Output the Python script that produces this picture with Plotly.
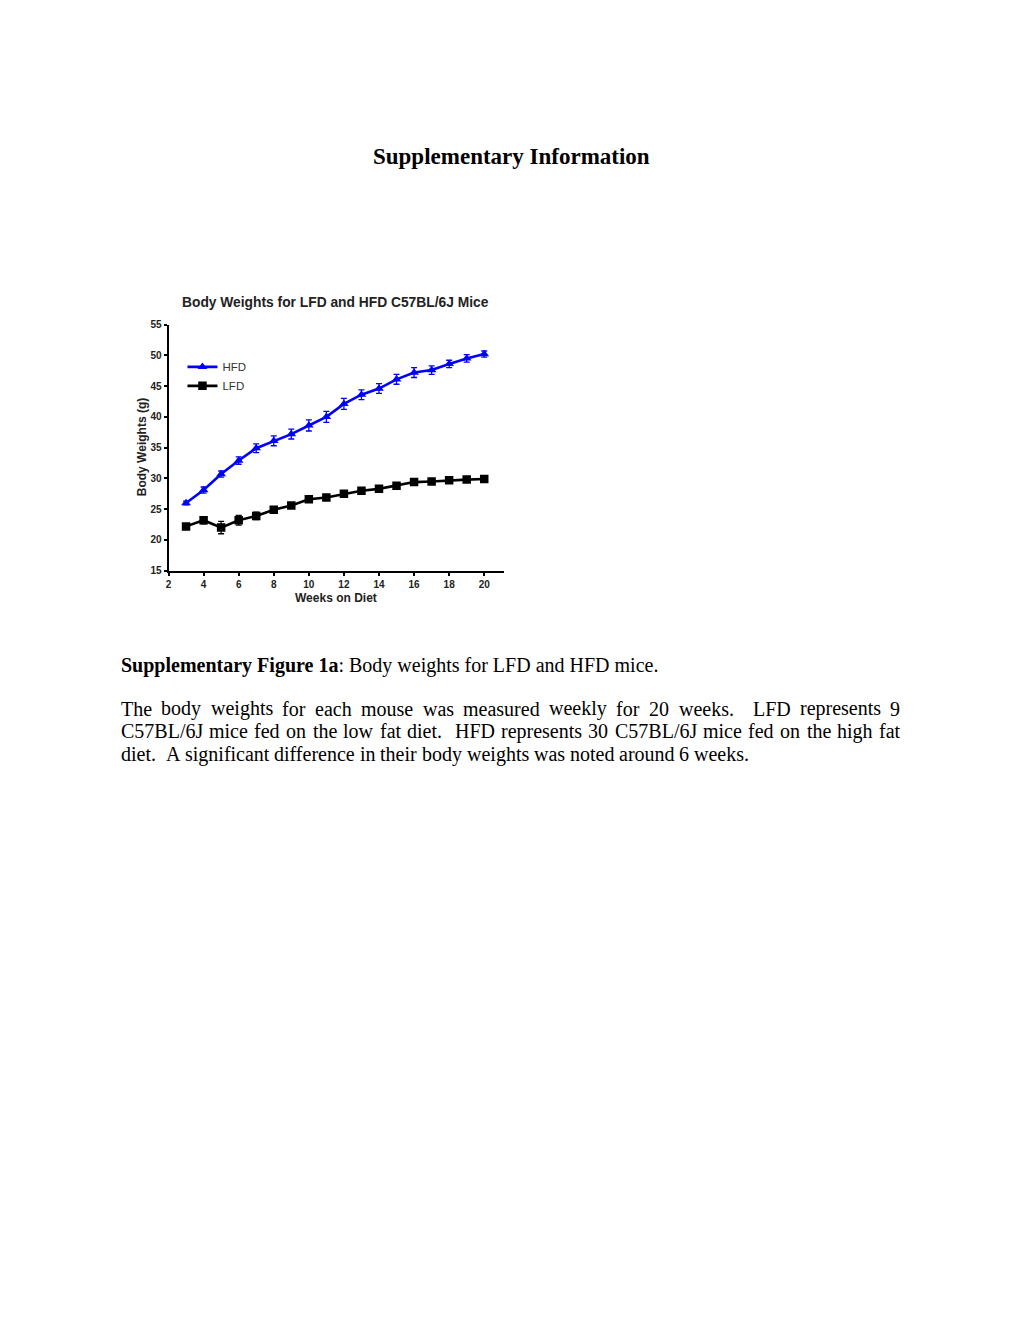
import plotly.graph_objects as go

W, H = 1020, 1320

weeks = [3, 4, 5, 6, 7, 8, 9, 10, 11, 12, 13, 14, 15, 16, 17, 18, 19, 20]
hfd = [26.0, 28.1, 30.7, 32.9, 34.9, 36.1, 37.2, 38.6, 40.0, 42.1, 43.6, 44.6, 46.1, 47.2, 47.6, 48.6, 49.5, 50.2]
hfd_err = [0.3, 0.5, 0.5, 0.6, 0.7, 0.8, 0.8, 0.9, 0.9, 0.9, 0.8, 0.8, 0.8, 0.8, 0.7, 0.6, 0.6, 0.5]
lfd = [22.2, 23.2, 22.0, 23.2, 23.9, 24.9, 25.6, 26.6, 26.9, 27.5, 28.0, 28.3, 28.8, 29.4, 29.5, 29.7, 29.8, 29.9]
lfd_err = [0.3, 0.6, 1.0, 0.8, 0.6, 0.5, 0.4, 0.4, 0.4, 0.3, 0.3, 0.3, 0.3, 0.3, 0.3, 0.3, 0.3, 0.3]

x_ticks = [2, 4, 6, 8, 10, 12, 14, 16, 18, 20]
y_ticks = [15, 20, 25, 30, 35, 40, 45, 50, 55]

page_title = "Supplementary Information"
chart_title = "Body Weights for LFD and HFD C57BL/6J Mice"
x_title = "Weeks on Diet"
y_title = "Body Weights (g)"
caption_bold = "Supplementary Figure 1a"
caption_rest = ": Body weights for LFD and HFD mice."
body_lines = [
    "The body weights for each mouse was measured weekly for 20 weeks.  LFD represents 9",
    "C57BL/6J mice fed on the low fat diet.  HFD represents 30 C57BL/6J mice fed on the high fat",
    "diet.  A significant difference in their body weights was noted around 6 weeks.",
]
justify = [True, True, False]

# Times-Roman advance widths (per 1000 em), used to justify the paragraph text
TW = {' ': 250, '.': 250, ',': 250, '/': 278, ':': 278, '(': 333, ')': 333, '-': 333,
      'A': 722, 'B': 667, 'C': 667, 'D': 722, 'E': 611, 'F': 556, 'G': 722, 'H': 722, 'I': 333,
      'J': 389, 'K': 722, 'L': 611, 'M': 889, 'N': 722, 'O': 722, 'P': 556, 'Q': 722, 'R': 667,
      'S': 556, 'T': 611, 'U': 722, 'V': 722, 'W': 944, 'X': 722, 'Y': 722, 'Z': 611,
      'a': 444, 'b': 500, 'c': 444, 'd': 500, 'e': 444, 'f': 333, 'g': 500, 'h': 500, 'i': 278,
      'j': 278, 'k': 500, 'l': 278, 'm': 778, 'n': 500, 'o': 500, 'p': 500, 'q': 500, 'r': 333,
      's': 389, 't': 278, 'u': 500, 'v': 500, 'w': 722, 'x': 500, 'y': 500, 'z': 444}
for d in "0123456789":
    TW[d] = 500


def text_w(s, size):
    return sum(TW.get(c, 500) for c in s) * size / 1000.0


def px(x):
    return x / W


def py(y):
    return 1 - y / H


fig = go.Figure()
fig.add_trace(go.Scatter(
    x=weeks, y=hfd, name="HFD", mode="lines+markers",
    line=dict(color="#0000ff", width=2.6),
    marker=dict(symbol="triangle-up", size=8.5, color="#0000ff"),
    error_y=dict(type="data", array=hfd_err, visible=True, color="#0000ff", thickness=1.3, width=3),
))
fig.add_trace(go.Scatter(
    x=weeks, y=lfd, name="LFD", mode="lines+markers",
    line=dict(color="#000000", width=2.6),
    marker=dict(symbol="square", size=8.5, color="#000000"),
    error_y=dict(type="data", array=lfd_err, visible=True, color="#000000", thickness=1.3, width=3),
))

sans = "Arial, Liberation Sans, sans-serif"
serif = "Liberation Serif, Times New Roman, serif"
axis_font = dict(family=sans, size=10, color="#222")
fig.update_xaxes(
    domain=[px(166), px(502)], range=[2, 21.1], tickvals=x_ticks,
    ticktext=[f"<b>{t}</b>" for t in x_ticks],
    showline=True, linecolor="black", linewidth=2, ticks="outside", ticklen=3, tickwidth=1.5,
    tickcolor="black", showgrid=False, zeroline=False, tickfont=axis_font,
)
fig.update_yaxes(
    domain=[py(570), py(322)], range=[15, 55], tickvals=y_ticks,
    ticktext=[f"<b>{t}</b>" for t in y_ticks],
    showline=True, linecolor="black", linewidth=2, ticks="outside", ticklen=3, tickwidth=1.5,
    tickcolor="black", showgrid=False, zeroline=False, tickfont=axis_font,
)

ann = []


def add_text(text, x, y, size, family, xanchor="left", angle=0, color="black"):
    ann.append(dict(text=text, x=px(x), y=py(y), xref="paper", yref="paper", showarrow=False,
                    textangle=angle, borderpad=0, borderwidth=0,
                    font=dict(family=family, size=size, color=color),
                    xanchor=xanchor, yanchor="middle"))


add_text(f"<b>{page_title}</b>", 510, 153, 23, serif, xanchor="center")
add_text(f"<b>{chart_title}</b>", 333, 300, 13.8, sans, xanchor="center", color="#222")
add_text(f"<b>{x_title}</b>", 334, 598, 12, sans, xanchor="center", color="#222")
add_text(f"<b>{y_title}</b>", 139, 446, 12, sans, xanchor="center", angle=-90, color="#222")

FS = 20
LEFT, RIGHT = 121, 903
XPAD = 3  # annotation inner offset correction
add_text(f"<b>{caption_bold}</b>{caption_rest}", LEFT - XPAD, 666, FS, serif)

for i, line in enumerate(body_lines):
    y = 709 + 23 * i
    tokens = line.split(" ")
    words = [t for t in tokens if t]
    n_spaces = len(tokens) - 1
    words_w = sum(text_w(t, FS) for t in words)
    if justify[i]:
        sp = (RIGHT - LEFT - words_w) / n_spaces
    else:
        sp = TW[' '] * FS / 1000.0
    x = LEFT
    for j, t in enumerate(tokens):
        if t:
            add_text(t, x - XPAD, y, FS, serif)
            x += text_w(t, FS)
        if j < len(tokens) - 1:
            x += sp

fig.update_layout(
    width=W, height=H, margin=dict(l=0, r=0, t=0, b=0),
    paper_bgcolor="white", plot_bgcolor="white",
    annotations=ann,
    legend=dict(x=px(180), y=py(350), xanchor="left", yanchor="top", bgcolor="rgba(0,0,0,0)",
                font=dict(family=sans, size=11.5, color="#333"), tracegroupgap=0, itemwidth=30),
    showlegend=True,
)

fig.write_html("out.html")
